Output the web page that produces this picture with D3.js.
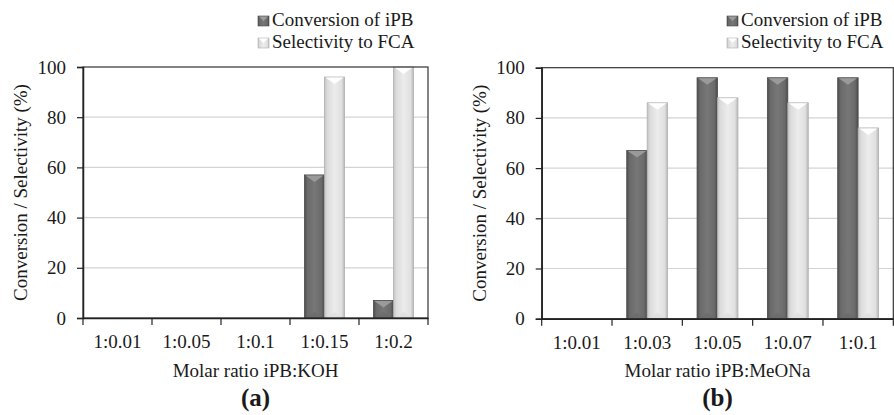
<!DOCTYPE html>
<html><head><meta charset="utf-8">
<script src="https://cdn.jsdelivr.net/npm/d3@7"></script>
<style>body{margin:0;background:#fff}svg{display:block}</style>
</head><body>
<svg id="chart" width="894" height="415" font-family="Liberation Serif"></svg>
<script>
const seriesNames = ["Conversion of iPB", "Selectivity to FCA"];
const yTicks = [0, 20, 40, 60, 80, 100];

const catsA = ["1:0.01", "1:0.05", "1:0.1", "1:0.15", "1:0.2"];
const convA = [0, 0, 0, 57, 7];
const selA  = [0, 0, 0, 96, 100];

const catsB = ["1:0.01", "1:0.03", "1:0.05", "1:0.07", "1:0.1"];
const convB = [0, 67, 96, 96, 96];
const selB  = [0, 86, 88, 86, 76];

const FONT = "Liberation Serif";
const svg = d3.select("#chart");
const defs = svg.append("defs");
function grad(id, stops) {
  const g = defs.append("linearGradient").attr("id", id).attr("x1", "0").attr("x2", "1").attr("y1", "0").attr("y2", "0");
  stops.forEach(s => g.append("stop").attr("offset", s[0]).attr("stop-color", s[1]));
}
grad("gDark", [[0, "#4e4e4e"], [0.15, "#6a6a6a"], [0.5, "#777777"], [0.85, "#6a6a6a"], [1, "#4a4a4a"]]);
grad("gLight", [[0, "#c4c4c4"], [0.15, "#dcdcdc"], [0.5, "#ececec"], [0.85, "#e0e0e0"], [1, "#b8b8b8"]]);
const styles = [
  {fill: "url(#gDark)", stroke: "#4a4a4a", cap: "#9c9c9c", base: "#6c6c6c"},
  {fill: "url(#gLight)", stroke: "#b0b0b0", cap: "#ffffff", base: "#dedede"}
];

function txt(sel, size, weight) {
  return sel.attr("font-family", FONT).attr("font-size", size).attr("font-weight", weight || "normal").attr("fill", "#1a1a1a");
}

function panel(cfg) {
  const {left, right, top, bottom, cats, series, xTitle, tag, yTitleX} = cfg;
  const g = svg.append("g");
  const x0 = d3.scaleBand().domain(cats).range([left, right]).padding(0);
  const x1 = d3.scaleBand().domain(seriesNames).range([0, x0.bandwidth()]).paddingInner(0).paddingOuter(0.72);
  const y = d3.scaleLinear().domain([0, 100]).range([bottom, top]);

  // gridlines
  g.append("g").selectAll("line").data(yTicks.filter(t => t > 0 && t < 100)).join("line")
    .attr("x1", left).attr("x2", right).attr("y1", d => y(d)).attr("y2", d => y(d))
    .attr("stroke", "#d4d4d4").attr("stroke-width", 1.2);

  // bars
  cats.forEach((c, i) => {
    series.forEach((vals, s) => {
      const v = vals[i];
      if (!v) return;
      const bx = x0(c) + x1(seriesNames[s]);
      const bw = x1.bandwidth();
      const by = y(v);
      const bh = y(0) - by;
      const st = styles[s];
      g.append("rect").attr("x", bx).attr("y", by).attr("width", bw).attr("height", bh)
        .attr("fill", st.fill).attr("stroke", st.stroke).attr("stroke-width", 0.8);
      const d = Math.min(7, bh / 2);
      g.append("polygon")
        .attr("points", `${bx + 1},${by + 0.5} ${bx + bw - 1},${by + 0.5} ${bx + bw / 2},${by + d}`)
        .attr("fill", st.cap).attr("opacity", 0.95);
      g.append("polygon")
        .attr("points", `${bx + 2},${y(0)} ${bx + bw - 2},${y(0)} ${bx + bw / 2},${y(0) - Math.min(6, bh / 2)}`)
        .attr("fill", st.base).attr("opacity", 0.8);
    });
  });

  // frame
  g.append("rect").attr("x", left).attr("y", top).attr("width", right - left).attr("height", bottom - top)
    .attr("fill", "none").attr("stroke", "#333").attr("stroke-width", 1.2);

  // y axis
  const ya = g.append("g").attr("transform", `translate(${left},0)`)
    .call(d3.axisLeft(y).tickValues(yTicks).tickSize(6).tickPadding(11));
  ya.attr("font-family", FONT);
  ya.select(".domain").attr("stroke", "#222").attr("stroke-width", 1.5);
  ya.selectAll(".tick line").attr("stroke", "#222").attr("stroke-width", 1.2);
  txt(ya.selectAll("text"), 19);

  // x axis
  const xa = g.append("g").attr("transform", `translate(0,${bottom})`)
    .call(d3.axisBottom(x0).tickSize(0).tickPadding(17));
  xa.attr("font-family", FONT);
  xa.select(".domain").attr("stroke", "#222").attr("stroke-width", 1.5);
  txt(xa.selectAll("text"), 19);
  const bounds = cats.map(c => x0(c)).concat([right]);
  g.append("g").selectAll("line").data(bounds).join("line")
    .attr("x1", d => d).attr("x2", d => d).attr("y1", bottom).attr("y2", bottom + 7)
    .attr("stroke", "#222").attr("stroke-width", 1.2);

  // titles
  txt(g.append("text"), 19).attr("x", (left + right) / 2).attr("y", 377).attr("text-anchor", "middle").text(xTitle);
  txt(g.append("text"), 25, "bold").attr("x", (left + right) / 2).attr("y", 406).attr("text-anchor", "middle").text(tag);
  txt(g.append("text"), 19).attr("transform", `translate(${yTitleX},${(top + bottom) / 2}) rotate(-90)`)
    .attr("text-anchor", "middle").text("Conversion / Selectivity (%)");

  // legend
  const lg = g.append("g").attr("transform", `translate(${cfg.legendX},0)`);
  seriesNames.forEach((n, s) => {
    const yy = 16 + s * 22;
    const st = styles[s];
    lg.append("rect").attr("x", 0).attr("y", yy).attr("width", 11).attr("height", 10)
      .attr("fill", st.fill).attr("stroke", st.stroke).attr("stroke-width", 0.6);
    lg.append("polygon").attr("points", `1,${yy + 0.5} 10,${yy + 0.5} 5.5,${yy + 5}`).attr("fill", st.cap);
    txt(lg.append("text"), 19).attr("x", 14).attr("y", yy + 10).text(n);
  });
}

panel({left: 83, right: 428, top: 67, bottom: 318, cats: catsA, series: [convA, selA],
  xTitle: "Molar ratio iPB:KOH", tag: "(a)", yTitleX: 27, legendX: 258});
panel({left: 541.7, right: 893.3, top: 67.7, bottom: 318.7, cats: catsB, series: [convB, selB],
  xTitle: "Molar ratio iPB:MeONa", tag: "(b)", yTitleX: 486, legendX: 727});
</script>
</body></html>
